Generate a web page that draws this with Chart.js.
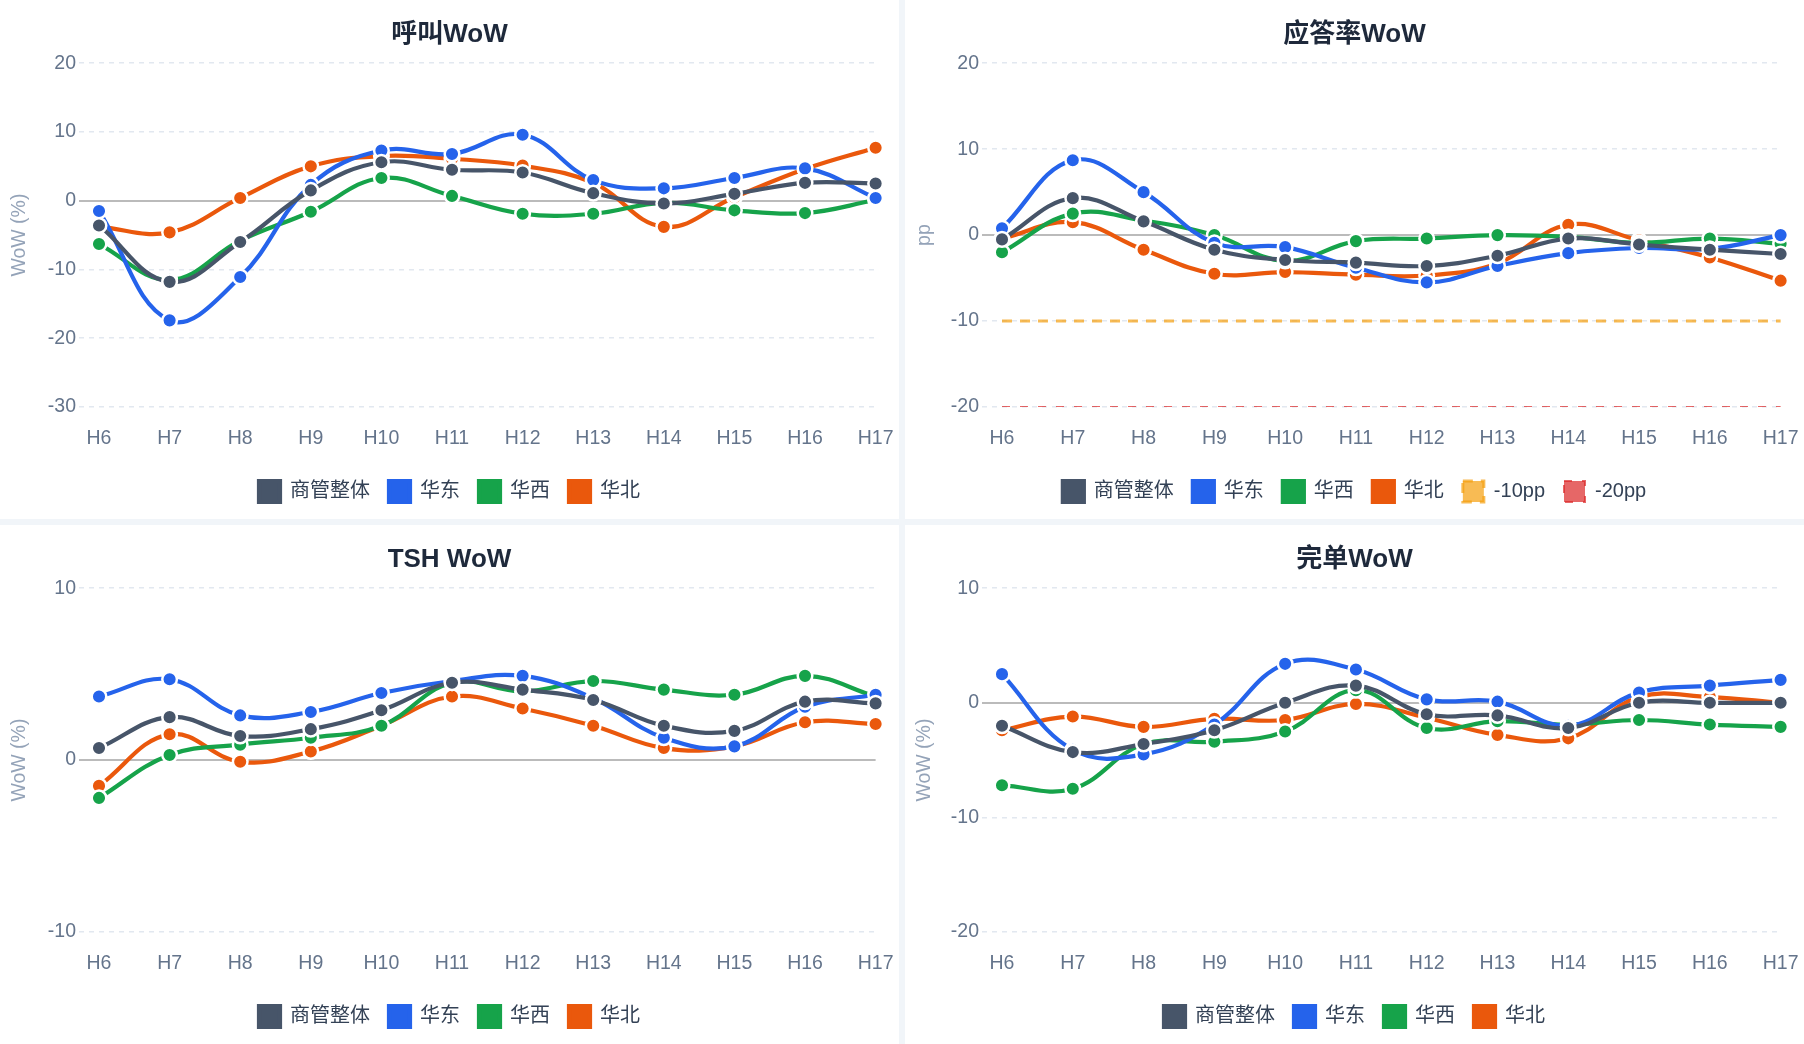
<!DOCTYPE html>
<html lang="zh-CN">
<head>
<meta charset="utf-8">
<title>WoW 看板</title>
<script src="https://cdn.jsdelivr.net/npm/chart.js@4.4.1/dist/chart.umd.min.js"></script>
<style>
  html, body { margin: 0; padding: 0; background: #f1f5f9; overflow: hidden; }
  .grid {
    display: grid;
    grid-template-columns: 899px 899px;
    grid-template-rows: 519px 519px;
    gap: 6px;
    width: 1804px;
    height: 1044px;
  }
  .panel { background: #fff; position: relative; }
  canvas { display: block; }
</style>
</head>
<body>
<div class="grid">
  <div class="panel"><canvas id="callChart"></canvas></div>
  <div class="panel"><canvas id="answerChart"></canvas></div>
  <div class="panel"><canvas id="tshChart"></canvas></div>
  <div class="panel"><canvas id="completeChart"></canvas></div>
</div>
<script>
// hours on the x axis
const hours = ['H6', 'H7', 'H8', 'H9', 'H10', 'H11', 'H12', 'H13', 'H14', 'H15', 'H16', 'H17'];
const seriesNames = ['商管整体', '华东', '华西', '华北'];

// 呼叫WoW (%)
const callOverall = [-3.6, -11.8, -6.0, 1.5, 5.6, 4.5, 4.1, 1.1, -0.4, 1.0, 2.6, 2.5];
const callEast    = [-1.5, -17.4, -11.1, 2.3, 7.3, 6.8, 9.6, 3.0, 1.8, 3.3, 4.7, 0.4];
const callWest    = [-6.3, -11.5, -5.8, -1.6, 3.3, 0.7, -1.9, -1.9, -0.3, -1.4, -1.8, 0.1];
const callNorth   = [-3.8, -4.6, 0.4, 5.0, 6.5, 6.1, 5.1, 2.6, -3.8, 0.5, 4.6, 7.7];

// 应答率WoW (pp)
const answerOverall = [-0.5, 4.3, 1.6, -1.7, -2.9, -3.2, -3.6, -2.4, -0.4, -1.1, -1.7, -2.2];
const answerEast    = [0.8, 8.7, 5.0, -0.9, -1.4, -3.8, -5.5, -3.6, -2.1, -1.5, -1.6, 0.0];
const answerWest    = [-2.0, 2.5, 1.7, 0.0, -3.0, -0.7, -0.4, 0.0, -0.2, -0.9, -0.4, -1.0];
const answerNorth   = [-0.4, 1.5, -1.7, -4.5, -4.3, -4.6, -4.7, -3.3, 1.2, -0.6, -2.6, -5.3];
const warnLine10    = [-10, -10, -10, -10, -10, -10, -10, -10, -10, -10, -10, -10];
const warnLine20    = [-20, -20, -20, -20, -20, -20, -20, -20, -20, -20, -20, -20];

// TSH WoW (%)
const tshOverall = [0.7, 2.5, 1.4, 1.8, 2.9, 4.5, 4.1, 3.5, 2.0, 1.7, 3.4, 3.3];
const tshEast    = [3.7, 4.7, 2.6, 2.8, 3.9, 4.6, 4.9, 3.6, 1.3, 0.8, 3.1, 3.8];
const tshWest    = [-2.2, 0.3, 0.9, 1.3, 2.0, 4.5, 4.0, 4.6, 4.1, 3.8, 4.9, 3.7];
const tshNorth   = [-1.5, 1.5, -0.1, 0.5, 2.0, 3.7, 3.0, 2.0, 0.7, 0.8, 2.2, 2.1];

// 完单WoW (%)
const completeOverall = [-2.0, -4.3, -3.6, -2.4, 0.0, 1.5, -1.0, -1.1, -2.2, 0.0, 0.0, 0.0];
const completeEast    = [2.5, -4.1, -4.5, -1.9, 3.4, 2.9, 0.3, 0.1, -2.0, 0.9, 1.5, 2.0];
const completeWest    = [-7.2, -7.5, -3.6, -3.4, -2.5, 1.1, -2.2, -1.6, -1.9, -1.5, -1.9, -2.1];
const completeNorth   = [-2.4, -1.2, -2.1, -1.4, -1.5, -0.1, -1.3, -2.8, -3.1, 0.5, 0.5, 0.0];

const colors = ['#475569', '#2563eb', '#16a34a', '#ea580c'];

Chart.defaults.font.family = "'Liberation Sans', 'Noto Sans CJK SC', sans-serif";
Chart.defaults.font.size = 19.5;
Chart.defaults.color = '#64748b';

const isZero = (c) => c.tick && c.tick.value === 0;

function lineSet(label, data, color) {
  return {
    label: label,
    data: data,
    borderColor: color,
    backgroundColor: color,
    pointBackgroundColor: color,
    pointBorderColor: '#ffffff',
    borderWidth: 4.2,
    pointRadius: 7.3,
    pointBorderWidth: 2.5,
    tension: 0.4,
    fill: false,
  };
}

function refSet(label, data, color, width, dash) {
  return {
    label: label,
    data: data,
    borderColor: color,
    backgroundColor: color,
    borderWidth: width,
    borderDash: dash,
    pointRadius: 0,
    tension: 0,
    fill: false,
  };
}

function makeChart(id, title, yTitle, yMin, yMax, leftWidth, datasets) {
  return new Chart(document.getElementById(id), {
    type: 'line',
    data: { labels: hours, datasets: datasets },
    options: {
      responsive: true,
      maintainAspectRatio: false,
      animation: false,
      layout: { padding: { left: 0, right: 0, top: 0, bottom: 7 } },
      plugins: {
        title: {
          display: true,
          text: title,
          color: '#1e293b',
          font: { size: 26, weight: 'bold' },
          padding: { top: 18.8, bottom: 13.2 },
        },
        legend: {
          position: 'bottom',
          labels: {
            boxWidth: 21,
            boxHeight: 21,
            padding: 19,
            color: '#334155',
            font: { size: 20 },
          },
        },
        tooltip: { enabled: false },
      },
      scales: {
        x: {
          // ticks.padding also sets the right gap after H17, tickLength makes up the rest of the drop
          grid: { display: false, drawTicks: true, tickLength: 14.5 },
          border: { display: false },
          ticks: { padding: 5.5, color: '#64748b', autoSkip: false, maxRotation: 0 },
          afterFit: (s) => { s.height = 55; },
        },
        y: {
          min: yMin,
          max: yMax,
          ticks: { stepSize: 10, padding: 3, color: '#64748b' },
          grid: {
            color: (c) => isZero(c) ? '#bbbbbb' : '#e2e8f0',
            lineWidth: (c) => isZero(c) ? 2 : 1.5,
            tickLength: 20,
            tickBorderDash: (c) => isZero(c) ? [] : [5, 5],
          },
          border: {
            display: false,
            dash: (c) => isZero(c) ? [] : [5, 5],
          },
          title: {
            display: true,
            text: yTitle,
            color: '#94a3b8',
            font: { size: 19.5 },
            padding: { top: 8, bottom: 4 },
          },
          afterFit: (s) => { s.width = leftWidth; },
        },
      },
    },
  });
}

makeChart('callChart', '呼叫WoW', 'WoW (%)', -30, 20, 99, [
  lineSet(seriesNames[0], callOverall, colors[0]),
  lineSet(seriesNames[1], callEast, colors[1]),
  lineSet(seriesNames[2], callWest, colors[2]),
  lineSet(seriesNames[3], callNorth, colors[3]),
]);

makeChart('answerChart', '应答率WoW', 'pp', -20, 20, 97, [
  lineSet(seriesNames[0], answerOverall, colors[0]),
  lineSet(seriesNames[1], answerEast, colors[1]),
  lineSet(seriesNames[2], answerWest, colors[2]),
  lineSet(seriesNames[3], answerNorth, colors[3]),
  refSet('-10pp', warnLine10, 'rgba(245, 158, 11, 0.7)', 3, [10, 8]),
  refSet('-20pp', warnLine20, 'rgba(220, 38, 38, 0.7)', 2, [8, 10]),
]);

makeChart('tshChart', 'TSH WoW', 'WoW (%)', -10, 10, 99, [
  lineSet(seriesNames[0], tshOverall, colors[0]),
  lineSet(seriesNames[1], tshEast, colors[1]),
  lineSet(seriesNames[2], tshWest, colors[2]),
  lineSet(seriesNames[3], tshNorth, colors[3]),
]);

makeChart('completeChart', '完单WoW', 'WoW (%)', -20, 10, 97, [
  lineSet(seriesNames[0], completeOverall, colors[0]),
  lineSet(seriesNames[1], completeEast, colors[1]),
  lineSet(seriesNames[2], completeWest, colors[2]),
  lineSet(seriesNames[3], completeNorth, colors[3]),
]);
</script>
</body>
</html>
